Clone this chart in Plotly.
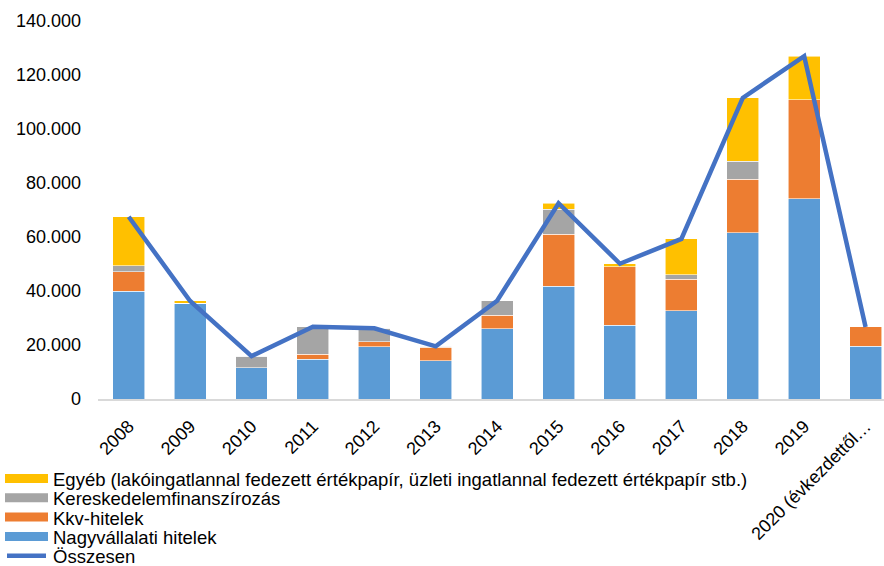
import plotly.graph_objects as go

# Categories (years) and stacked components
years = ["2008", "2009", "2010", "2011", "2012", "2013", "2014",
         "2015", "2016", "2017", "2018", "2019", "2020 (évkezdettől…"]

nagyvallalati = [40000, 35400, 11600, 14700, 19400, 14100, 26000,
                 41700, 27300, 32700, 61600, 74200, 19500]
kkv = [7100, 0, 0, 1800, 1800, 5000, 5000,
       19300, 21700, 11600, 19800, 36700, 7200]
kereskedelem = [2300, 0, 4300, 10300, 5000, 400, 5400,
                9200, 0, 1700, 6600, 0, 0]
egyeb = [18100, 900, 0, 0, 0, 0, 0,
         2300, 1100, 13300, 23500, 16100, 0]

osszesen = [a + b + c + d for a, b, c, d in zip(nagyvallalati, kkv, kereskedelem, egyeb)]

y_ticks = [0, 20000, 40000, 60000, 80000, 100000, 120000, 140000]
y_tick_labels = ["0", "20.000", "40.000", "60.000", "80.000", "100.000", "120.000", "140.000"]

names = {
    "egyeb": "Egyéb (lakóingatlannal fedezett értékpapír, üzleti ingatlannal fedezett értékpapír stb.)",
    "keresk": "Kereskedelemfinanszírozás",
    "kkv": "Kkv-hitelek",
    "nagy": "Nagyvállalati hitelek",
    "ossz": "Összesen",
}
colors = {
    "egyeb": "#FFC000",
    "keresk": "#A5A5A5",
    "kkv": "#ED7D31",
    "nagy": "#5B9BD5",
    "ossz": "#4472C4",
}

# Figure geometry
W, H = 884, 566
M_L, M_R, M_T, M_B = 98, 0, 21, 167
PLOT_W = W - M_L - M_R
PLOT_H = H - M_T - M_B


def paper_x(px):
    return (px - M_L) / PLOT_W


def paper_y(py):
    return (H - M_B - py) / PLOT_H


x_idx = list(range(len(years)))
fig = go.Figure()

stack = [("nagy", nagyvallalati), ("kkv", kkv), ("keresk", kereskedelem), ("egyeb", egyeb)]
for key, vals in stack:
    fig.add_trace(go.Bar(
        x=x_idx, y=vals, name=names[key],
        marker=dict(color=colors[key], line=dict(color="rgba(255,255,255,0.7)", width=0.8)),
        width=0.52, showlegend=False, hoverinfo="y+name",
    ))

fig.add_trace(go.Scatter(
    x=x_idx, y=osszesen, name=names["ossz"], mode="lines",
    line=dict(color=colors["ossz"], width=4.5), showlegend=False,
))

# Legend block below the axis: swatches + labels, tightly stacked
legend_order = ["egyeb", "keresk", "kkv", "nagy", "ossz"]
row0, row_step = 478.5, 19.3
sw_x0, sw_x1, sw_h = 5, 48, 9
text_x = 51
shapes, annotations = [], []
for i, key in enumerate(legend_order):
    cy = row0 + i * row_step
    if key == "ossz":
        shapes.append(dict(
            type="line", xref="paper", yref="paper",
            x0=paper_x(sw_x0 + 2), x1=paper_x(sw_x1 - 2), y0=paper_y(cy), y1=paper_y(cy),
            line=dict(color=colors[key], width=4.5),
        ))
    else:
        shapes.append(dict(
            type="rect", xref="paper", yref="paper",
            x0=paper_x(sw_x0), x1=paper_x(sw_x1),
            y0=paper_y(cy - sw_h / 2), y1=paper_y(cy + sw_h / 2),
            fillcolor=colors[key], line=dict(width=0),
        ))
    annotations.append(dict(
        xref="paper", yref="paper", x=paper_x(text_x), y=paper_y(cy + 1),
        xanchor="left", yanchor="middle", showarrow=False,
        text=names[key], font=dict(size=18.5, color="#000000"),
    ))

fig.update_layout(
    width=W, height=H,
    margin=dict(l=M_L, r=M_R, t=M_T, b=M_B, autoexpand=False),
    paper_bgcolor="white", plot_bgcolor="white",
    barmode="stack",
    font=dict(family="Liberation Sans, Arial, sans-serif", size=16, color="#000000"),
    showlegend=False,
    shapes=shapes,
    annotations=annotations,
)

fig.update_xaxes(
    tickmode="array", tickvals=x_idx, ticktext=years,
    tickangle=-45, range=[-0.5, 12.3],
    showgrid=False, zeroline=False,
    showline=True, linecolor="#D9D9D9", linewidth=1.5,
    ticks="", tickfont=dict(size=18), ticklabelstandoff=8,
)
fig.update_yaxes(
    range=[0, 140000], tickmode="array", tickvals=y_ticks, ticktext=y_tick_labels,
    showgrid=False, zeroline=False, showline=False, ticks="",
    tickfont=dict(size=18), ticklabelstandoff=16,
)

fig.write_html("out.html")
